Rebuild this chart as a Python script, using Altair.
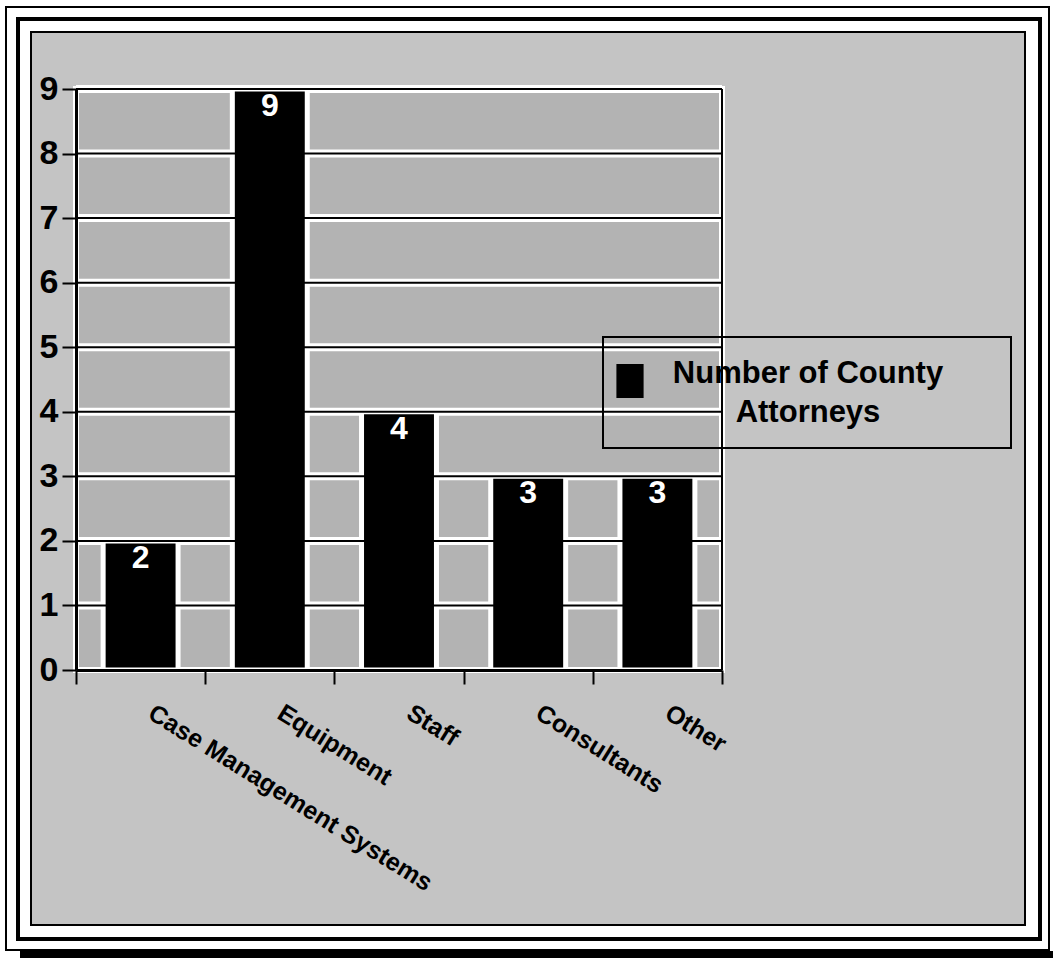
import altair as alt
import pandas as pd

categories = ["Case Management Systems", "Equipment", "Staff", "Consultants", "Other"]
values = [2, 9, 4, 3, 3]
series_name = "Number of County Attorneys"
legend_lines = ["Number of County", "Attorneys"]
y_ticks = [0, 1, 2, 3, 4, 5, 6, 7, 8, 9]
grid_vals = [1, 2, 3, 4, 5, 6, 7, 8, 9]

W, H = 646, 581
FONT = "Liberation Sans"

df = pd.DataFrame({"cat": categories, "v": values, "series": [series_name] * len(categories)})
grid_df = pd.DataFrame({"v": grid_vals})
one = pd.DataFrame({"k": [0]})

x_axis = alt.Axis(
    title=None, labelAngle=32, labelAlign="left", labelBaseline="top",
    labelPadding=16, labelOffset=16, tickBand="extent", tickSize=14, tickWidth=2,
    tickColor="black", domainColor="black", domainWidth=3,
    labelFont=FONT, labelFontSize=25, labelFontWeight="bold", labelColor="black",
    labelLimit=600, zindex=1, grid=False,
)
y_axis = alt.Axis(
    title=None, values=y_ticks, tickSize=14, tickWidth=2, tickColor="black",
    domainColor="black", domainWidth=3, labelFont=FONT, labelFontSize=34,
    labelFontWeight="bold", labelColor="black", labelPadding=4, zindex=1, grid=False,
)

x_enc = alt.X("cat:N", sort=categories, axis=x_axis,
              scale=alt.Scale(paddingInner=0, paddingOuter=0))
y_enc = alt.Y("v:Q", axis=y_axis, scale=alt.Scale(domain=[0, 9], nice=False))


def deco_rect(x, x2, y, y2, **kw):
    return alt.Chart(one).mark_rect(**kw).encode(
        x=alt.value(x - 76), x2=alt.value(x2 - 76),
        y=alt.value(y - 89), y2=alt.value(y2 - 89))


outer = deco_rect(6, 1049, 7, 950, fillOpacity=0, stroke="black", strokeWidth=2)
shadow = deco_rect(20, 1053, 951, 958, fill="black")
thick = deco_rect(18, 1040, 19, 939, fillOpacity=0, stroke="black", strokeWidth=4)
panel = deco_rect(31, 1025, 32, 925, fill="#c4c4c4", stroke="black", strokeWidth=2)
legend_box = deco_rect(603, 1011, 337, 448, fillOpacity=0, stroke="black", strokeWidth=2)
plotbg = alt.Chart(one).mark_rect(fill="#b3b3b3", stroke="white", strokeWidth=6).encode(
    x=alt.value(0), x2=alt.value(W), y=alt.value(0), y2=alt.value(H))

grid_white = alt.Chart(grid_df).mark_rule(color="white", strokeWidth=8).encode(y=y_enc)
grid_black = alt.Chart(grid_df).mark_rule(color="black", strokeWidth=2).encode(y=y_enc)
right_edge = alt.Chart(one).mark_rule(color="black", strokeWidth=2).encode(
    x=alt.value(W), y=alt.value(0), y2=alt.value(H))

bars = alt.Chart(df).mark_bar(
    stroke="white", strokeWidth=5, width=alt.RelativeBandSize(0.58)
).encode(
    x=x_enc, y=y_enc,
    color=alt.Color("series:N", scale=alt.Scale(range=["black"]),
                    legend=alt.Legend(
                        title=legend_lines, titleOrient="right", titleAlign="center",
                        titleBaseline="top", titleLineHeight=39, titlePadding=161,
                        titleFont=FONT, titleFontSize=31, titleFontWeight="bold",
                        titleColor="black", titleLimit=800,
                        orient="none", legendX=537, legendY=271, padding=0,
                        symbolType="M-0.8,-0.765H0.8V1.235H-0.8Z", symbolSize=1156,
                        symbolStrokeWidth=0, labelExpr="''", labelOffset=0)),
)

labels = alt.Chart(df).mark_text(
    color="white", font=FONT, fontSize=32, fontWeight="bold", baseline="top", dy=2
).encode(x=x_enc, y=y_enc, text="v:Q")

chart = alt.layer(
    outer, shadow, thick, panel, plotbg, grid_white, bars, grid_black, right_edge,
    labels, legend_box
).properties(
    width=W, height=H,
    autosize=alt.AutoSizeParams(type="none"),
    padding={"left": 76, "top": 89, "right": 331, "bottom": 288},
).configure(background="white").configure_view(stroke=None).configure_legend(strokeColor=None)

chart.save("out.html", embed_options={"renderer": "svg", "actions": False})
